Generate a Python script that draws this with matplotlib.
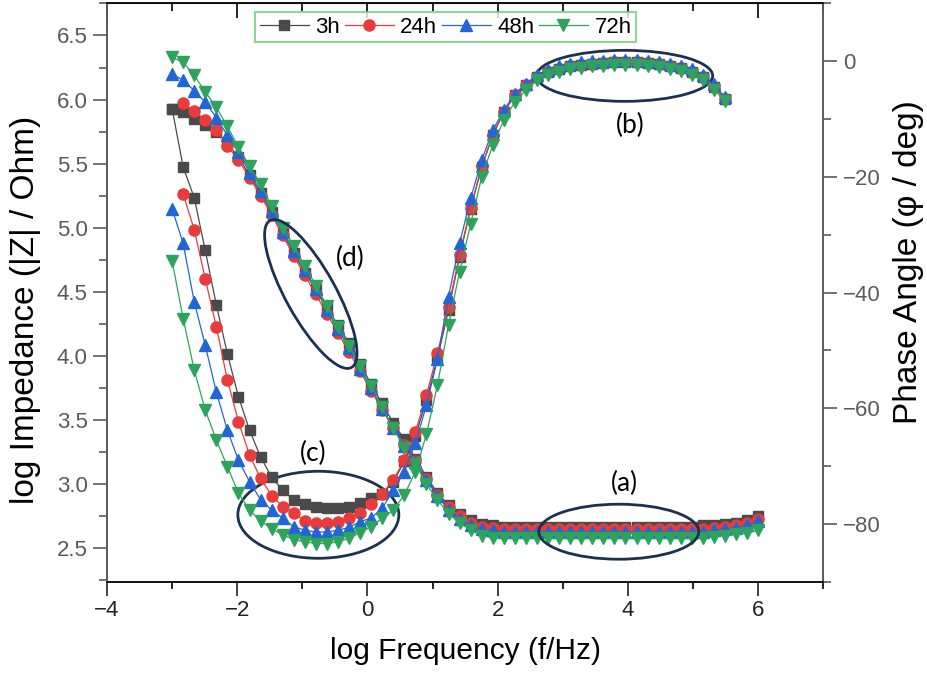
import matplotlib
matplotlib.use("Agg")
import numpy as np
import matplotlib.pyplot as plt
import matplotlib.transforms as mtransforms
from matplotlib.patches import Ellipse
from matplotlib.ticker import MultipleLocator

# frequency points (log f / Hz)
log_f = [-3.000, -2.830, -2.660, -2.491, -2.321, -2.151, -1.981, -1.811, -1.642, -1.472,
         -1.302, -1.132, -0.962, -0.792, -0.623, -0.453, -0.283, -0.113, 0.057, 0.226,
         0.396, 0.566, 0.736, 0.906, 1.075, 1.245, 1.415, 1.585, 1.755, 1.925,
         2.094, 2.264, 2.434, 2.604, 2.774, 2.943, 3.113, 3.283, 3.453, 3.623,
         3.792, 3.962, 4.132, 4.302, 4.472, 4.642, 4.811, 4.981, 5.151, 5.321,
         5.491, 5.660, 5.830, 6.000]

labels = ["3h", "24h", "48h", "72h"]

# log |Z|  (24h has no point at the lowest frequency)
imp_3h = [5.93, 5.90, 5.85, 5.80, 5.75, 5.66, 5.55, 5.41, 5.27, 5.12,
          4.96, 4.80, 4.65, 4.52, 4.38, 4.24, 4.10, 3.94, 3.78, 3.63,
          3.48, 3.35, 3.20, 3.06, 2.93, 2.84, 2.77, 2.72, 2.69, 2.68,
          2.67, 2.67, 2.67, 2.67, 2.67, 2.67, 2.67, 2.67, 2.67, 2.67,
          2.67, 2.67, 2.67, 2.67, 2.67, 2.67, 2.67, 2.67, 2.68, 2.68,
          2.69, 2.70, 2.72, 2.75]
imp_24h = [np.nan, 5.97, 5.91, 5.84, 5.76, 5.64, 5.53, 5.39, 5.25, 5.10,
           4.94, 4.78, 4.63, 4.48, 4.33, 4.18, 4.03, 3.88, 3.73, 3.58,
           3.44, 3.31, 3.18, 3.04, 2.92, 2.82, 2.75, 2.70, 2.67, 2.66,
           2.65, 2.65, 2.65, 2.65, 2.65, 2.65, 2.65, 2.65, 2.65, 2.65,
           2.65, 2.65, 2.65, 2.65, 2.65, 2.65, 2.65, 2.65, 2.65, 2.66,
           2.67, 2.68, 2.70, 2.73]
imp_48h = [6.20, 6.15, 6.07, 5.98, 5.86, 5.72, 5.59, 5.43, 5.29, 5.13,
           4.97, 4.82, 4.67, 4.52, 4.36, 4.21, 4.06, 3.90, 3.75, 3.59,
           3.44, 3.30, 3.17, 3.03, 2.91, 2.80, 2.73, 2.68, 2.65, 2.64,
           2.63, 2.63, 2.63, 2.63, 2.63, 2.63, 2.63, 2.63, 2.63, 2.63,
           2.63, 2.63, 2.63, 2.63, 2.63, 2.63, 2.63, 2.63, 2.63, 2.64,
           2.65, 2.66, 2.68, 2.71]
imp_72h = [6.33, 6.29, 6.19, 6.06, 5.94, 5.79, 5.63, 5.48, 5.34, 5.17,
           5.00, 4.86, 4.70, 4.55, 4.39, 4.23, 4.08, 3.92, 3.77, 3.60,
           3.44, 3.28, 3.16, 3.00, 2.88, 2.77, 2.70, 2.64, 2.60, 2.58,
           2.58, 2.58, 2.58, 2.58, 2.58, 2.58, 2.58, 2.58, 2.58, 2.58,
           2.58, 2.58, 2.58, 2.58, 2.58, 2.58, 2.58, 2.58, 2.58, 2.59,
           2.60, 2.61, 2.62, 2.64]

# phase angle (deg), measured up to ~5.5
phase_3h = [-8.2, -18.3, -23.6, -32.7, -42.1, -50.6, -58.0, -63.8, -68.4, -71.9,
            -74.2, -75.9, -76.5, -77.0, -77.2, -77.2, -77.0, -76.4, -75.6, -74.8,
            -72.8, -69.2, -64.8, -58.6, -51.4, -43.0, -33.8, -25.5, -18.3, -12.8,
            -8.8, -5.9, -4.1, -2.7, -1.9, -1.3, -0.9, -0.6, -0.4, -0.3,
            -0.2, -0.2, -0.2, -0.3, -0.5, -0.8, -1.2, -1.8, -2.8, -4.4,
            -6.5]
phase_24h = [np.nan, -23.0, -29.1, -37.6, -45.9, -55.1, -62.3, -68.1, -72.1, -75.1,
             -77.0, -78.1, -79.5, -79.9, -79.9, -79.6, -79.0, -78.1, -76.6, -74.8,
             -72.4, -69.0, -64.1, -57.7, -50.5, -42.5, -33.5, -25.3, -18.2, -12.7,
             -8.7, -5.9, -4.1, -2.7, -1.9, -1.3, -0.9, -0.6, -0.4, -0.3,
             -0.2, -0.2, -0.2, -0.3, -0.5, -0.8, -1.2, -1.8, -2.8, -4.4,
             -6.5]
phase_48h = [-25.5, -31.5, -41.6, -49.1, -57.2, -63.8, -69.0, -72.7, -75.8, -77.6,
             -79.0, -80.5, -81.1, -81.4, -81.4, -81.1, -80.6, -79.6, -79.0, -77.3,
             -74.2, -71.0, -66.0, -59.5, -51.5, -40.7, -31.5, -23.7, -17.1, -11.9,
             -8.5, -5.6, -3.9, -2.4, -1.5, -0.9, -0.5, -0.2, 0.0, 0.1,
             0.2, 0.2, 0.2, 0.1, -0.1, -0.4, -0.8, -1.4, -2.4, -4.0,
             -6.2]
phase_72h = [-34.5, -44.5, -53.4, -60.3, -65.5, -70.1, -74.7, -77.6, -79.5, -80.8,
             -81.9, -82.7, -83.1, -83.4, -83.4, -83.1, -82.5, -81.5, -80.5, -79.0,
             -77.6, -75.0, -71.0, -64.5, -56.0, -45.6, -36.4, -28.1, -20.0, -14.5,
             -10.2, -7.0, -5.0, -3.3, -2.4, -1.8, -1.4, -1.1, -0.9, -0.8,
             -0.7, -0.7, -0.7, -0.8, -1.0, -1.3, -1.7, -2.3, -3.3, -4.9,
             -6.8]

impedance = [imp_3h, imp_24h, imp_48h, imp_72h]
phase = [phase_3h, phase_24h, phase_48h, phase_72h]
colors = ["#4a4a4a", "#e83b3b", "#2166d4", "#2ea35e"]
markers = ["s", "o", "^", "v"]
msizes = [7, 8, 9, 9]

plt.rcParams["font.family"] = ["Liberation Sans", "DejaVu Sans"]

fig = plt.figure(figsize=(9.27, 6.78), dpi=100)
ax = fig.add_axes([0.1154, 0.142, 0.7727, 0.853])
ax2 = ax.twinx()

handles = []
for i in range(4):
    h, = ax.plot(log_f, impedance[i], color=colors[i], marker=markers[i], ms=msizes[i],
                 mec=colors[i], lw=0.9, label=labels[i])
    handles.append(h)
    n = len(phase[i])
    ax2.plot(log_f[:n], phase[i], color=colors[i], marker=markers[i], ms=msizes[i],
             mec=colors[i], lw=0.9)

ax.set_xlim(-4, 7)
ax.set_ylim(2.24, 6.75)
ax2.set_ylim(-90, 10)

ax.xaxis.set_major_locator(MultipleLocator(2))
ax.xaxis.set_minor_locator(MultipleLocator(1))
ax.yaxis.set_major_locator(MultipleLocator(0.5))
ax.yaxis.set_minor_locator(MultipleLocator(0.25))
ax2.yaxis.set_major_locator(MultipleLocator(20))
ax2.yaxis.set_minor_locator(MultipleLocator(10))

gray = "#5a5a5a"
ax.tick_params(axis="x", which="major", direction="out", length=10, width=1.2,
               labelsize=16, pad=3, colors="#222222")
ax.tick_params(axis="x", which="minor", direction="out", length=5, width=1.2)
ax.tick_params(axis="y", which="major", direction="out", length=10, width=1.2,
               labelsize=16, colors=gray, pad=4)
ax.tick_params(axis="y", which="minor", direction="out", length=6, width=1.2, colors=gray)
ax2.tick_params(axis="y", which="major", direction="out", length=10, width=1.2,
                labelsize=16, colors=gray, pad=4)
ax2.tick_params(axis="y", which="minor", direction="out", length=6, width=1.2, colors=gray)

# inward ticks along the top edge
top = ax.secondary_xaxis("top")
top.xaxis.set_major_locator(MultipleLocator(2))
top.xaxis.set_minor_locator(MultipleLocator(1))
top.tick_params(which="major", direction="in", length=11, width=1.2, labeltop=False)
top.tick_params(which="minor", direction="in", length=6, width=1.2)

for a in (ax, ax2):
    a.spines["left"].set_color(gray)
    a.spines["right"].set_color(gray)
    a.spines["top"].set_color("#111111")
    a.spines["bottom"].set_color("#111111")
    for s in a.spines.values():
        s.set_linewidth(1.2)

ax.set_xlabel("log Frequency (f/Hz)", fontsize=21.5, labelpad=12)
ax.set_ylabel("log Impedance (|Z| / Ohm)", fontsize=24)
ax2.set_ylabel("Phase Angle (\u03c6 / deg)", fontsize=24)
ax.yaxis.set_label_coords(-0.092, 0.47)
ax2.yaxis.set_label_coords(1.098, 0.553)

leg = ax2.legend(handles=handles, loc="upper center", bbox_to_anchor=(0.473, 0.985),
                 ncol=4, fontsize=16, frameon=True, fancybox=False, borderpad=0.2,
                 handlelength=2.2, handletextpad=0.3, columnspacing=0.2,
                 borderaxespad=0)
leg.get_frame().set_edgecolor("#74cc74")
leg.get_frame().set_linewidth(1.5)

# ellipses around regions (a)-(d): centre in data coords, size in pixels
rings = [(3.86, 2.63, 160, 55, 0), (3.95, 6.185, 176, 51, 0),
         (-0.754, 2.762, 161, 87, 0), (-0.87, 4.484, 50, 168, 29)]
for x, y, w, h, ang in rings:
    tr = fig.dpi_scale_trans + mtransforms.ScaledTranslation(x, y, ax.transData)
    ax2.add_patch(Ellipse((0, 0), w / 100, h / 100, angle=ang, transform=tr,
                          fill=False, ec="#1c3150", lw=2))

notes = [("(a)", 3.95, 3.01), ("(b)", 4.03, 5.80), ("(c)", -0.84, 3.24), ("(d)", -0.26, 4.76)]
for txt, x, y in notes:
    ax.text(x, y, txt, fontsize=19, ha="center", va="center", family=["Lato", "DejaVu Sans"])

fig.savefig("out.png", dpi=100)
